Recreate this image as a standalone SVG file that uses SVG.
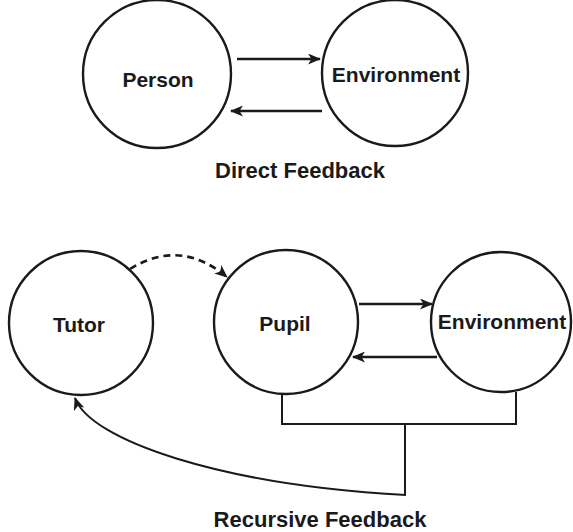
<svg xmlns="http://www.w3.org/2000/svg" width="573" height="532" viewBox="0 0 573 532">
<style>
.node circle{fill:#fff;stroke:#1a1a1a;stroke-width:2.4}
text{font-family:"Liberation Sans",Arial,sans-serif;font-weight:bold;fill:#1a1a1a;text-anchor:middle}
.lbl{font-size:21px}
.cap{font-size:22px}
.c{fill:none;stroke:#1a1a1a;stroke-width:2.6}
.thin{fill:none;stroke:#1a1a1a;stroke-width:2}
</style>
<defs>
<marker id="ah" viewBox="0 0 13 11" refX="12" refY="5.5" markerWidth="13" markerHeight="11" markerUnits="userSpaceOnUse" orient="auto">
<path d="M0,0 L13,5.5 L0,11 L3.5,5.5 Z" fill="#1a1a1a"/>
</marker>
</defs>
<rect width="573" height="532" fill="#fff"/>
<g id="person" class="node"><circle cx="157" cy="74" r="74"/><text class="lbl" x="158" y="87">Person</text></g>
<g id="environment1" class="node"><circle cx="395" cy="73" r="73"/><text class="lbl" x="396" y="82">Environment</text></g>
<text id="direct-feedback" class="cap" x="300" y="178">Direct Feedback</text>
<g id="tutor" class="node"><circle cx="81" cy="323" r="72"/><text class="lbl" x="79" y="332">Tutor</text></g>
<g id="pupil" class="node"><circle cx="286" cy="322" r="72"/><text class="lbl" x="285" y="331">Pupil</text></g>
<g id="environment2" class="node"><circle cx="501" cy="322" r="70"/><text class="lbl" x="502" y="329">Environment</text></g>
<text id="recursive-feedback" class="cap" x="320" y="527">Recursive Feedback</text>
<g id="connectors">
<line class="c" x1="237" y1="59" x2="320" y2="59" marker-end="url(#ah)"/>
<line class="c" x1="322" y1="111" x2="231" y2="111" marker-end="url(#ah)"/>
<line class="c" x1="359" y1="304" x2="432" y2="304" marker-end="url(#ah)"/>
<line class="c" x1="437" y1="357" x2="353" y2="357" marker-end="url(#ah)"/>
<path class="c" d="M130,269 Q180,238 227,277" stroke-dasharray="7,5" marker-end="url(#ah)"/>
<path class="thin" d="M282,393 V424 H516 V392 M405,424 V495"/>
<path class="thin" d="M406,495 C220,485 90,440 75,398" marker-end="url(#ah)"/>
</g>
</svg>
